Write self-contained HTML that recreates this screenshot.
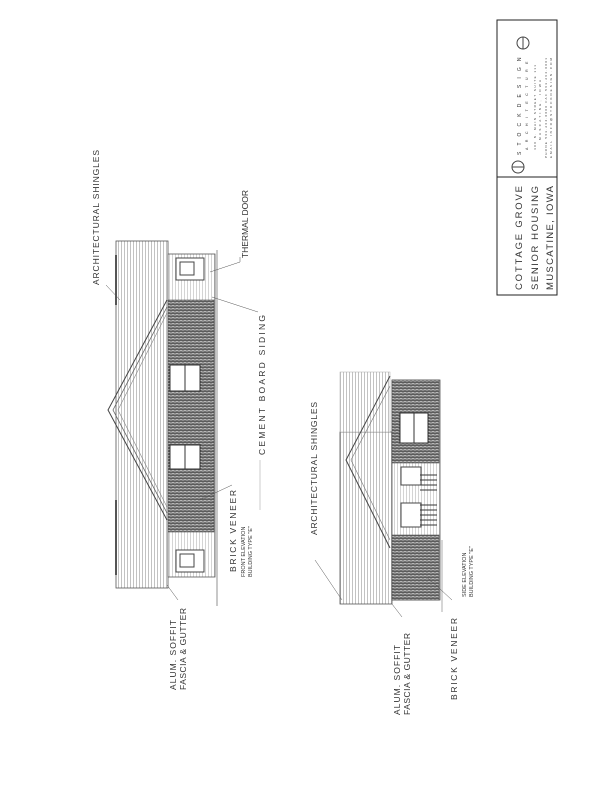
<!DOCTYPE html>
<html><head><meta charset="utf-8"><style>
html,body{margin:0;padding:0;background:#fff;}
svg{display:block}
text{font-family:"Liberation Sans",sans-serif;fill:#333;}
</style></head><body>
<svg width="615" height="800" viewBox="0 0 615 800" xmlns="http://www.w3.org/2000/svg">
<defs>
<pattern id="brick" width="4" height="3" patternUnits="userSpaceOnUse">
<rect width="4" height="3" fill="#b8b8b8"/>
<path d="M0 0H4M0 1.5H4M1 0V1.5M3 1.5V3" stroke="#444" stroke-width="0.7"/>
</pattern>
<pattern id="roofv" width="3" height="6" patternUnits="userSpaceOnUse">
<rect width="3" height="6" fill="#fff"/>
<path d="M1.5 0V6" stroke="#999" stroke-width="0.6"/>
</pattern>
<pattern id="sidv" width="3" height="6" patternUnits="userSpaceOnUse">
<rect width="3" height="6" fill="#fff"/>
<path d="M1.5 0V6" stroke="#aaa" stroke-width="0.5"/>
</pattern>
</defs>
<rect width="615" height="800" fill="#fff"/>

<!-- Title block -->
<rect x="497" y="20" width="60" height="157" fill="none" stroke="#222" stroke-width="1"/>
<rect x="497" y="177" width="60" height="118" fill="none" stroke="#222" stroke-width="1"/>
<circle cx="518" cy="167" r="6" fill="none" stroke="#444"/>
<line x1="512" y1="167" x2="524" y2="167" stroke="#444"/>
<circle cx="523" cy="43" r="6" fill="none" stroke="#444"/>
<line x1="523" y1="37" x2="523" y2="49" stroke="#444"/>
<text transform="translate(521,155) rotate(-90)" font-size="5" letter-spacing="2.5" textLength="100">STOCKDESIGN</text>
<text transform="translate(528,150) rotate(-90)" font-size="3.5" letter-spacing="1.5" textLength="90">ARCHITECTURE</text>
<text transform="translate(536,150) rotate(-90)" font-size="3" textLength="85">400 N. MAIN STREET SUITE 111</text>
<text transform="translate(541,140) rotate(-90)" font-size="3" textLength="60">MUSCATINE, IOWA</text>
<text transform="translate(547,158) rotate(-90)" font-size="3" textLength="100">PHONE 563.264.0000 FAX 563.264.0001</text>
<text transform="translate(552,158) rotate(-90)" font-size="3" textLength="100">EMAIL INFO@STOCKDESIGN.COM</text>
<text transform="translate(522,290) rotate(-90)" font-size="9.5" textLength="104">COTTAGE GROVE</text>
<text transform="translate(538,290) rotate(-90)" font-size="9.5" textLength="104">SENIOR HOUSING</text>
<text transform="translate(553,290) rotate(-90)" font-size="9.5" textLength="104">MUSCATINE, IOWA</text>

<!-- FRONT ELEVATION -->
<rect x="116" y="241" width="52" height="347" fill="url(#roofv)" stroke="#555" stroke-width="0.8"/>
<line x1="116" y1="255" x2="116" y2="305" stroke="#555" stroke-width="2"/>
<line x1="116" y1="500" x2="116" y2="575" stroke="#555" stroke-width="2"/>
<rect x="168" y="254" width="47" height="323" fill="url(#sidv)" stroke="#555" stroke-width="0.8"/>
<rect x="168" y="300" width="46" height="232" fill="url(#brick)" stroke="#555" stroke-width="0.6"/>
<rect x="170" y="365" width="30" height="26" fill="#fff" stroke="#333"/>
<line x1="185" y1="365" x2="185" y2="391" stroke="#333"/>
<rect x="170" y="445" width="30" height="24" fill="#fff" stroke="#333"/>
<line x1="185" y1="445" x2="185" y2="469" stroke="#333"/>
<rect x="176" y="258" width="28" height="22" fill="#fff" stroke="#444"/>
<rect x="180" y="262" width="14" height="13" fill="#fff" stroke="#444"/>
<rect x="176" y="550" width="28" height="22" fill="#fff" stroke="#444"/>
<rect x="180" y="554" width="14" height="13" fill="#fff" stroke="#444"/>
<line x1="217" y1="250" x2="217" y2="606" stroke="#777" stroke-width="0.8"/>
<polyline points="167,300 108,410 167,520" fill="none" stroke="#444" stroke-width="1"/>
<polyline points="167,307 113,410 167,513" fill="none" stroke="#666" stroke-width="0.8"/>
<polyline points="167,313 118,410 167,507" fill="none" stroke="#888" stroke-width="0.6"/>
<line x1="120" y1="300" x2="106" y2="285" stroke="#555" stroke-width="0.5"/>
<text transform="translate(99,285) rotate(-90)" font-size="8.5" textLength="135">ARCHITECTURAL SHINGLES</text>
<polyline points="210,272 240,262 240,257" fill="none" stroke="#555" stroke-width="0.5"/>
<text transform="translate(248,258) rotate(-90)" font-size="8.5" textLength="68">THERMAL DOOR</text>
<polyline points="212,297 258,312" fill="none" stroke="#555" stroke-width="0.5"/>
<text transform="translate(265,455) rotate(-90)" font-size="8.5" textLength="140">CEMENT BOARD SIDING</text>
<line x1="260" y1="460" x2="260" y2="510" stroke="#999" stroke-width="0.5"/>
<polyline points="200,500 232,485" fill="none" stroke="#555" stroke-width="0.5"/>
<text transform="translate(236,572) rotate(-90)" font-size="8.5" textLength="82">BRICK VENEER</text>
<text transform="translate(245,577) rotate(-90)" font-size="5.5" fill="#888">FRONT ELEVATION</text>
<text transform="translate(252,577) rotate(-90)" font-size="5.5" fill="#888">BUILDING TYPE "E"</text>
<polyline points="167,585 178,600" fill="none" stroke="#555" stroke-width="0.5"/>
<text transform="translate(176,690) rotate(-90)" font-size="8.5" textLength="70">ALUM. SOFFIT</text>
<text transform="translate(186,690) rotate(-90)" font-size="8.5" textLength="82">FASCIA &amp; GUTTER</text>

<!-- SIDE ELEVATION -->
<rect x="340" y="432" width="52" height="172" fill="url(#roofv)" stroke="#555" stroke-width="0.8"/>
<rect x="340" y="372" width="50" height="60" fill="url(#roofv)" stroke="#aaa" stroke-width="0.5"/>
<rect x="392" y="380" width="48" height="220" fill="url(#sidv)" stroke="#555" stroke-width="0.8"/>
<rect x="392" y="380" width="47" height="83" fill="url(#brick)" stroke="#555" stroke-width="0.6"/>
<rect x="392" y="535" width="47" height="65" fill="url(#brick)" stroke="#555" stroke-width="0.6"/>
<rect x="400" y="413" width="28" height="30" fill="#fff" stroke="#333"/>
<line x1="414" y1="413" x2="414" y2="443" stroke="#333"/>
<rect x="401" y="467" width="20" height="18" fill="#fff" stroke="#444"/>
<rect x="401" y="503" width="20" height="24" fill="#fff" stroke="#444"/>
<g stroke="#333" stroke-width="1">
<line x1="420" y1="475" x2="437" y2="475"/><line x1="420" y1="480" x2="437" y2="480"/><line x1="420" y1="485" x2="437" y2="485"/><line x1="420" y1="490" x2="437" y2="490"/>
<line x1="420" y1="505" x2="437" y2="505"/><line x1="420" y1="510" x2="437" y2="510"/><line x1="420" y1="515" x2="437" y2="515"/><line x1="420" y1="520" x2="437" y2="520"/><line x1="420" y1="525" x2="437" y2="525"/>
</g>
<polyline points="390,376 346,460 390,548" fill="none" stroke="#444" stroke-width="1"/>
<polyline points="390,386 351,460 390,540" fill="none" stroke="#777" stroke-width="0.6"/>
<line x1="442" y1="540" x2="442" y2="612" stroke="#777" stroke-width="0.6"/>
<line x1="342" y1="600" x2="315" y2="560" stroke="#555" stroke-width="0.5"/>
<text transform="translate(317,535) rotate(-90)" font-size="8.5" textLength="133">ARCHITECTURAL SHINGLES</text>
<polyline points="392,604 402,617" fill="none" stroke="#555" stroke-width="0.5"/>
<text transform="translate(400,715) rotate(-90)" font-size="8.5" textLength="70">ALUM. SOFFIT</text>
<text transform="translate(410,715) rotate(-90)" font-size="8.5" textLength="82">FASCIA &amp; GUTTER</text>
<polyline points="428,578 452,600" fill="none" stroke="#555" stroke-width="0.5"/>
<text transform="translate(457,700) rotate(-90)" font-size="8.5" textLength="82">BRICK VENEER</text>
<text transform="translate(466,597) rotate(-90)" font-size="5.5" fill="#888">SIDE ELEVATION</text>
<text transform="translate(473,597) rotate(-90)" font-size="5.5" fill="#888">BUILDING TYPE "E"</text>
</svg>
</body></html>
